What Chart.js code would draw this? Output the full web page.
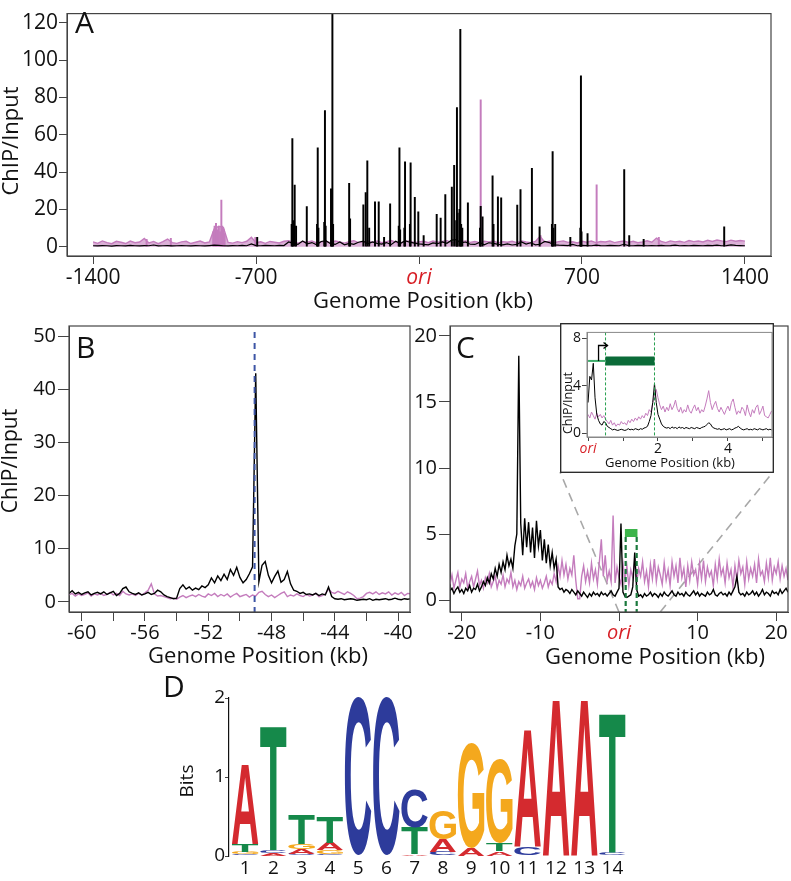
<!DOCTYPE html>
<html>
<head>
<meta charset="utf-8">
<script src="https://cdn.jsdelivr.net/npm/chart.js@4.4.1/dist/chart.umd.min.js"></script>
<style>
  body { margin: 0; background: #fff; }
  #fig { position: relative; width: 791px; height: 881px; overflow: hidden; background: #fff; }
  canvas { position: absolute; }
</style>
</head>
<body>
<div id="fig">
  <canvas id="chartA" width="791" height="318" style="left:0;top:0"></canvas>
  <canvas id="chartB" width="425" height="370" style="left:0;top:300px"></canvas>
  <canvas id="chartC" width="396" height="370" style="left:395px;top:300px"></canvas>
  <canvas id="chartInset" width="214" height="150" style="left:560px;top:323px"></canvas>
  <canvas id="chartD" width="490" height="231" style="left:150px;top:650px"></canvas>
</div>
<script>
// ---------- data ----------
// panel A: genome-wide ChIP/Input, 20 kb bins from -1400 kb
const aStart = -1400, aStep = 20;
const aInput = [
  2.6,1.8,3.1,2.2,1.6,2.9,2.4,1.7,3.0,2.1,
  2.5,4.4,2.0,2.8,1.6,2.7,4.1,2.2,1.8,2.6,
  2.9,1.7,2.4,3.0,2.0,2.6,9.5,11.0,10.2,2.3,
  1.9,2.7,2.2,2.9,5.0,2.1,2.6,1.8,2.8,2.4,
  2.0,2.9,3.2,2.3,1.9,2.7,2.4,3.1,2.0,2.6,
  2.8,2.1,3.0,2.5,1.9,2.7,3.2,2.2,2.6,2.9,
  2.3,3.0,2.1,2.7,3.3,2.4,2.0,2.8,3.1,2.2,
  2.6,2.9,2.1,3.0,2.4,2.8,3.2,2.2,2.7,2.5,
  3.0,2.3,2.8,2.1,2.9,2.6,3.1,2.0,2.7,2.4,
  2.9,2.2,3.0,2.5,2.1,2.8,5.6,2.4,2.9,2.2,
  2.7,3.1,2.3,2.6,2.0,2.9,2.4,3.0,2.2,2.8,
  2.5,3.1,2.2,2.7,3.0,2.3,2.9,2.1,2.6,3.2,
  2.4,4.6,2.8,2.2,3.1,2.6,2.9,2.3,3.3,2.7,
  3.0,2.5,3.4,2.8,3.6,3.1,2.7,3.5,2.9,3.3,3.0
];
const aChip = [
  0.5,0.4,0.6,0.5,0.3,0.6,0.5,0.4,0.7,0.5,
  0.4,0.6,0.5,0.9,0.4,0.5,0.6,0.4,0.5,0.6,
  0.5,0.4,0.6,0.5,0.4,0.6,0.8,0.7,0.5,0.4,
  0.6,0.5,0.7,0.5,1.5,0.6,0.5,0.7,0.6,0.5,
  0.7,0.6,2.5,1.8,1.2,3.0,1.5,2.2,1.0,2.8,
  3.2,1.6,1.2,2.5,1.0,1.8,1.3,2.4,3.0,1.5,
  2.6,1.8,1.4,2.2,1.1,2.9,1.7,3.2,2.4,1.9,
  1.5,1.2,1.0,2.0,1.6,2.6,1.8,3.5,3.8,2.0,
  2.5,1.3,1.2,2.3,1.0,2.1,1.8,1.2,1.0,1.5,
  0.9,1.2,2.5,1.4,2.1,1.0,1.3,2.8,2.2,1.0,
  0.8,0.7,0.6,1.2,0.5,0.7,0.6,0.5,0.8,0.6,
  0.5,0.7,0.6,0.5,1.3,0.6,0.5,0.7,0.6,0.5,
  0.6,0.5,0.7,0.5,0.6,0.8,0.5,0.6,0.5,0.7,
  0.6,0.5,0.7,0.6,0.8,0.5,0.6,1.0,0.7,0.6,0.5
];
const aChipPeakPos = [-695,-547,-544,-541,-534,-528,-482,-438,-435,-432,-407,-404,-401,-378,-375,-372,-369,-300,-296,-239,
  -229,-222,-214,-189,-173,-150,-124,-87,-84,-81,-63,-60,-39,-36,-18,-3,20,76,93,113,
  141,151,160,163,166,174,177.5,181,186,210,262,265,273,316,320,339,353,422,436,485,
  518,571,574,577,585,650,693,695.6,698,724,881.5,903,965,1311];
const aChipPeakVal = [5,12,58,14,33,11,21.5,12,53,10,13,73,11,31,15,140,12,34,15,22.5,
  29,46,10,24,24,5,23,11,53,9,10,45.5,12,45,26.5,18.7,6,17.4,15.3,28,
  32,43.6,14,74.6,18,20,116.6,12,10,23.5,10,21.6,16,38,12,26.7,26.2,22.3,30.6,42,
  10.7,12,51,10,12,5,10,91.6,8,7,41.4,6,4,10.7];
const aInputPeakPos = [-1170,-1066,-884,-878,-872,-866,-860,-854,-849,-845,-840,-835,-703,265,522,763,1030];
const aInputPeakVal = [4,4.5,8,11,12.5,9,10.5,8,25,11,9.5,7,5,78.8,6,33.2,5];
const aTicksX = [-1400, -700, 0, 700, 1400];
const aTicksY = [0, 20, 40, 60, 80, 100, 120];

// panel B: -60.8 to -39.2 kb, 0.2 kb bins
const bStart = -60.8, bStep = 0.2;
const bChip = [
  1.6,2.1,1.5,1.8,1.4,1.7,1.9,1.3,1.6,1.8,
  1.5,1.9,1.4,1.7,2.0,1.2,1.6,2.5,2.8,1.9,
  1.6,1.4,1.7,1.3,1.5,1.8,1.4,1.6,2.2,1.9,
  1.3,1.0,0.8,0.6,0.7,2.5,3.2,2.4,2.8,2.2,
  2.6,2.3,3.0,2.7,3.2,4.5,3.6,4.9,4.0,5.2,
  4.2,6.1,5.0,6.5,4.6,3.6,4.2,5.3,6.6,43.0,
  3.8,6.9,7.6,5.0,3.6,4.8,5.8,3.7,4.2,5.7,
  3.4,2.2,2.0,1.6,1.8,1.4,1.5,1.3,1.6,1.2,
  1.5,1.3,2.8,1.0,0.6,0.5,0.6,0.4,0.5,0.6,
  0.5,0.3,0.4,0.5,0.4,0.6,0.3,0.5,0.4,0.5,
  0.6,0.4,0.5,0.7,0.5,0.4,0.6,0.5,0.6
];
const bInput = [
  1.3,1.6,1.1,1.5,1.2,1.4,1.7,1.1,1.5,1.3,
  1.6,1.2,1.4,1.8,1.3,1.6,1.2,2.0,1.5,1.3,
  1.5,1.2,1.6,1.3,1.7,2.2,3.4,1.5,1.1,1.2,
  1.0,0.8,0.6,0.7,0.5,0.9,1.2,0.8,1.1,1.3,
  1.0,1.4,1.1,0.9,1.5,1.2,1.6,1.0,1.4,1.1,
  1.5,0.9,1.3,1.6,1.0,1.2,1.4,0.9,1.3,1.1,
  1.8,2.0,1.4,1.0,1.3,0.8,1.2,1.6,1.9,1.0,
  1.3,1.1,1.5,1.2,1.0,1.4,1.1,1.3,1.6,1.0,
  1.2,1.5,2.4,1.8,1.6,2.0,1.7,1.4,1.9,1.6,
  1.2,0.6,0.7,1.0,1.6,1.8,1.5,1.9,1.4,1.7,
  1.5,1.9,1.3,1.7,1.4,1.8,1.2,1.6,1.5
];
const bMotifSite = -49.07;
const bTicksX = [-60,-58,-56,-54,-52,-50,-48,-46,-44,-42,-40];
const bTicksY = [0, 10, 20, 30, 40, 50];

// panel C: -21.5 to 21.5 kb around ori, 0.25 kb bins
const cStart = -21.5, cStep = 0.25;
const cChip = [
  0.7,0.9,0.5,0.8,1.0,0.6,0.8,0.5,0.9,0.7,
  1.1,0.6,0.9,0.8,1.2,0.7,1.0,1.4,1.1,1.7,
  1.3,2.0,1.6,2.4,1.8,2.7,2.1,2.9,2.3,3.4,
  2.6,3.1,2.4,4.1,5.0,18.5,5.8,3.4,6.2,4.0,
  5.9,3.6,5.5,3.2,6.0,4.1,5.3,3.0,4.6,2.8,
  4.2,2.6,3.6,2.4,3.1,1.0,0.8,0.9,0.6,0.8,
  0.7,0.5,0.8,0.6,0.4,0.7,0.5,0.3,0.6,0.4,
  0.2,0.5,0.3,0.6,0.4,0.5,0.3,0.6,0.4,0.5,
  0.3,0.5,0.7,0.4,0.3,0.6,0.9,5.8,0.6,0.3,
  0.2,0.3,0.4,1.0,3.6,0.8,0.3,0.4,0.2,0.5,
  0.3,0.4,0.6,0.3,0.5,0.4,0.2,0.5,0.3,0.6,
  0.4,0.3,0.5,0.7,0.4,0.3,0.6,0.4,0.5,0.3,
  0.6,0.4,0.3,0.5,0.7,0.4,0.6,0.3,0.5,0.4,
  0.3,0.6,0.4,0.5,0.8,0.4,0.3,0.5,0.6,0.4,
  0.5,0.3,0.6,0.4,0.7,1.0,1.8,0.6,0.4,0.5,
  0.3,0.6,0.4,0.5,0.7,0.4,0.6,0.3,0.5,0.8,
  0.4,0.6,0.5,0.3,0.7,0.5,0.6,0.4,0.8,0.5,
  0.7,0.9,0.6
];
const cInput = [
  1.2,1.9,0.9,1.5,2.1,1.0,1.6,1.3,2.0,0.9,
  1.4,1.8,1.0,1.6,2.2,1.1,1.5,0.9,1.7,1.3,
  2.0,1.0,1.4,1.8,0.9,1.5,1.2,1.9,1.0,1.6,
  1.3,2.1,1.0,1.5,0.8,1.4,1.1,1.8,0.9,1.3,
  1.6,1.0,1.4,0.8,1.7,1.1,1.5,0.9,1.3,1.8,
  1.0,1.5,1.2,2.0,1.4,2.6,1.8,3.0,1.9,2.7,
  1.6,2.4,1.9,3.4,1.5,0.1,0.1,1.8,2.6,1.4,
  2.2,1.3,2.8,1.6,2.3,1.2,2.9,4.6,1.8,3.4,
  1.5,2.2,1.4,6.4,1.3,2.5,1.7,1.2,2.8,1.5,
  2.6,1.1,2.3,1.7,3.0,1.3,2.4,1.8,2.9,1.4,
  2.2,1.0,2.7,1.6,3.1,1.4,2.5,1.9,1.2,2.8,
  1.5,2.3,1.1,2.9,1.8,2.6,1.3,3.2,1.7,2.4,
  1.0,2.6,1.5,2.9,1.9,2.3,1.2,2.8,1.6,3.0,
  1.4,2.5,1.8,2.2,1.1,2.7,1.6,3.1,1.9,2.4,
  1.3,2.8,1.7,2.3,1.0,2.6,1.5,3.0,2.0,2.5,
  1.2,2.9,1.6,2.4,1.8,2.7,1.3,3.1,1.9,2.2,
  1.4,2.8,1.7,3.2,1.5,2.5,2.0,2.9,1.6,2.6,
  1.8,2.4,1.5
];
const cGene = [0.85, 2.25];
const cGeneLevel = 5.08;
const cTicksX = [-20, -10, 0, 10, 20];
const cTicksY = [0, 5, 10, 15, 20];

// inset: 0 to 5.25 kb from ori, 0.05 kb bins
const insetStart = 0, insetStep = 0.05;
const insetChip = [
  2.6,4.8,4.5,5.9,3.0,1.6,1.1,0.8,0.7,1.0,
  0.9,0.6,0.5,0.4,0.3,0.35,0.3,0.25,0.3,0.35,
  0.3,0.25,0.3,0.4,0.3,0.35,0.3,0.4,0.35,0.3,
  0.4,0.35,0.45,0.5,0.6,1.0,1.5,2.6,4.2,2.6,
  1.6,1.2,0.8,0.6,0.5,0.45,0.5,0.4,0.55,0.45,
  0.5,0.4,0.55,0.45,0.5,0.4,0.5,0.45,0.4,0.5,
  0.45,0.4,0.5,0.45,0.4,0.5,0.55,0.6,0.75,0.9,
  0.8,0.55,0.45,0.4,0.35,0.4,0.3,0.35,0.4,0.3,
  0.35,0.4,0.3,0.35,0.45,0.5,0.6,0.45,0.35,0.3,
  0.35,0.4,0.3,0.35,0.3,0.4,0.35,0.3,0.4,0.35,
  0.3,0.35,0.4,0.3,0.35,0.3
];
const insetInput = [
  1.6,1.3,1.8,1.5,1.2,1.7,1.4,1.6,1.3,1.5,
  1.2,1.0,0.8,1.1,0.7,0.9,0.6,0.8,0.7,1.0,
  0.8,0.9,0.7,1.1,0.9,1.2,1.0,1.3,1.1,1.4,
  1.2,1.5,1.3,1.7,1.5,2.0,1.8,2.6,3.2,3.7,
  3.0,2.4,2.0,2.3,1.8,2.2,1.9,2.5,2.0,2.3,
  2.8,2.1,1.8,2.2,1.7,2.0,1.8,2.4,1.9,1.7,
  2.1,2.4,1.9,2.2,1.7,2.0,1.8,2.3,2.9,3.6,
  2.6,2.0,2.4,2.7,2.1,1.8,2.2,1.9,1.6,2.0,
  2.3,1.9,2.6,2.9,2.2,1.6,1.9,1.7,2.2,2.0,
  1.5,2.4,1.8,1.4,2.0,1.7,2.2,2.4,1.6,1.9,
  2.3,1.5,1.4,1.3,1.6,1.9
];
const insetGene = [0.5, 1.9];
const insetGeneLevel = 6.1;
const insetTss = 0.3, insetArrowLevel = 7.4;
const insetTicksX = [0, 1, 2, 3, 4, 5];
const insetTicksY = [0, 4, 8];

// panel D: motif logo, letters bottom -> top with their heights in bits
const logoPositions = [1,2,3,4,5,6,7,8,9,10,11,12,13,14];
const logoLetters = ['CGTA','ACT','CAGT','CGAT','C','C','ATC','CAG','AG','ATG','CA','A','A','CT'];
const logoBits = [
  [0.02,0.03,0.10,1.02],[0.04,0.03,1.58],[0.03,0.06,0.06,0.37],[0.02,0.05,0.09,0.33],
  [2.0],[2.0],[0.02,0.34,0.49],[0.05,0.16,0.36],[0.10,1.34],[0.06,0.10,1.06],
  [0.11,1.50],[2.0],[2.0],[0.04,1.78]
];
const logoTicksY = [0, 1, 2];

// ---------- style ----------
const FONT = '"Open Sans"';
const RED = '#d71f26';
const PINK = '#c47cbd';
const AXIS = '#444';
const logoColors = { A: '#d42a2f', C: '#2d3b9b', G: '#f4a81d', T: '#15894a' };
Chart.defaults.font.family = FONT;
Chart.defaults.color = '#111';

const series = (start, step, vals) => vals.map((v, i) => ({ x: +(start + i * step).toFixed(3), y: v }));
const pairs = (xs, ys) => xs.map((x, i) => ({ x, y: ys[i] }));

function makeAxis(o) {
  const isOri = c => o.ori && c.tick && c.tick.value === 0;
  return {
    type: 'linear', min: o.min, max: o.max, offset: false,
    afterBuildTicks: s => { s.ticks = o.ticks.map(v => ({ value: v })); },
    afterFit: s => {
      if (o.width !== undefined) s.width = o.width;
      if (o.height !== undefined) s.height = o.height;
    },
    grid: { display: o.noGrid ? false : true, drawOnChartArea: false, drawTicks: !o.noGrid,
            tickLength: o.tickLength || 0, color: AXIS, lineWidth: 1, offset: false },
    border: { display: !o.noBorder, color: o.borderColor || AXIS, width: o.borderWidth || 1 },
    ticks: {
      autoSkip: false, maxRotation: 0, minRotation: 0, padding: o.padding || 0,
      callback: o.callback || (v => String(v)),
      color: c => isOri(c) ? RED : '#111',
      font: c => ({ family: FONT, size: o.fontSize, style: isOri(c) ? 'italic' : 'normal' })
    }
  };
}

function baseOptions(padding, scales) {
  return {
    responsive: false, animation: false, events: [],
    layout: { padding },
    plugins: { legend: { display: false }, tooltip: { enabled: false } },
    scales
  };
}

const lineSet = (data, color, width, order) =>
  ({ type: 'line', data, borderColor: color, borderWidth: width, pointRadius: 0, tension: 0, order });
const spikeSet = (data, color, order) =>
  ({ type: 'bar', data, backgroundColor: color, barThickness: 1.3, grouped: false, order });

function framePlugin(color, width) {
  return {
    id: 'frame',
    afterDatasetsDraw(chart) {
      const { ctx, chartArea: a } = chart;
      ctx.save();
      ctx.strokeStyle = color; ctx.lineWidth = width;
      ctx.strokeRect(a.left, a.top, a.right - a.left, a.bottom - a.top);
      ctx.restore();
    }
  };
}

function textPlugin(items) {
  return {
    id: 'texts',
    afterDraw(chart) {
      const ctx = chart.ctx;
      items.forEach(t => {
        ctx.save();
        ctx.translate(t.x, t.y);
        if (t.rot) ctx.rotate(t.rot * Math.PI / 180);
        ctx.font = (t.style || 'normal') + ' ' + (t.weight || 400) + ' ' + t.size + 'px ' + FONT;
        ctx.fillStyle = t.color || '#111';
        ctx.textAlign = t.align || 'center';
        ctx.textBaseline = t.base || 'middle';
        ctx.fillText(t.text, 0, 0);
        ctx.restore();
      });
    }
  };
}

const oriLabel = v => v === 0 ? 'ori' : String(v);

// ---------- A ----------
const aInputLine = lineSet(series(aStart, aStep, aInput), PINK, 1.4, 3);
aInputLine.fill = 'origin';
aInputLine.backgroundColor = 'rgba(190,112,182,0.55)';
new Chart(document.getElementById('chartA'), {
  type: 'line',
  data: { datasets: [
    spikeSet(pairs(aChipPeakPos, aChipPeakVal), '#000', 0),
    lineSet(series(aStart, aStep, aChip), '#000', 1.2, 1),
    spikeSet(pairs(aInputPeakPos, aInputPeakVal), PINK, 2),
    aInputLine
  ]},
  options: baseOptions({ top: 1, right: 20, left: 0, bottom: 0 }, {
    x: makeAxis({ min: -1512, max: 1512, ticks: aTicksX, height: 62, tickLength: 8, padding: 1,
                  fontSize: 21, callback: oriLabel, ori: true }),
    y: makeAxis({ min: -5, max: 125, ticks: aTicksY, width: 67, tickLength: 8, padding: 1, fontSize: 21 })
  }),
  plugins: [framePlugin(AXIS, 1.2), textPlugin([
    { text: 'A', x: 75, y: 33, size: 30, align: 'left', base: 'alphabetic' },
    { text: 'ChIP/Input', x: 12, y: 141, size: 22, rot: -90 },
    { text: 'Genome Position (kb)', x: 423, y: 302, size: 22 }
  ])]
});

// ---------- B ----------
new Chart(document.getElementById('chartB'), {
  type: 'line',
  data: { datasets: [
    lineSet(series(bStart, bStep, bChip), '#000', 1.4, 0),
    lineSet(series(bStart, bStep, bInput), PINK, 1.4, 1)
  ]},
  options: baseOptions({ top: 26, right: 15, left: 0, bottom: 0 }, {
    x: makeAxis({ min: -60.8, max: -39.25, ticks: bTicksX, height: 58, tickLength: 9, padding: 0,
                  fontSize: 20, callback: v => v % 4 === 0 ? String(v) : '' }),
    y: makeAxis({ min: -1.9, max: 51.9, ticks: bTicksY, width: 69, tickLength: 11, padding: 2, fontSize: 20 })
  }),
  plugins: [{
    id: 'motifLine',
    afterDatasetsDraw(chart) {
      const { ctx, chartArea: a, scales } = chart;
      const x = scales.x.getPixelForValue(bMotifSite);
      ctx.save();
      ctx.strokeStyle = '#3d55a5'; ctx.lineWidth = 2; ctx.setLineDash([6, 5]);
      ctx.beginPath(); ctx.moveTo(x, a.top + 6); ctx.lineTo(x, a.bottom); ctx.stroke();
      ctx.restore();
    }
  }, framePlugin(AXIS, 1.2), textPlugin([
    { text: 'B', x: 76, y: 58, size: 30, align: 'left', base: 'alphabetic' },
    { text: 'ChIP/Input', x: 11, y: 161, size: 21, rot: -90 },
    { text: 'Genome Position (kb)', x: 258, y: 357, size: 22 }
  ])]
});

// ---------- C ----------
const insetBoxInC = { left: 165, right: 378, bottom: 172 };
new Chart(document.getElementById('chartC'), {
  type: 'line',
  data: { datasets: [
    lineSet(series(cStart, cStep, cChip), '#000', 1.4, 0),
    lineSet(series(cStart, cStep, cInput), PINK, 1.4, 1)
  ]},
  options: baseOptions({ top: 26, right: 3, left: 0, bottom: 0 }, {
    x: makeAxis({ min: -21.5, max: 21.5, ticks: cTicksX, height: 58, tickLength: 9, padding: 0,
                  fontSize: 20, callback: oriLabel, ori: true }),
    y: makeAxis({ min: -0.9, max: 20.75, ticks: cTicksY, width: 55, tickLength: 11, padding: 2, fontSize: 20 })
  }),
  plugins: [{
    id: 'zoomLines',
    beforeDatasetsDraw(chart) {
      const { ctx, chartArea: a, scales } = chart;
      const x0 = scales.x.getPixelForValue(insetStart);
      const x1 = scales.x.getPixelForValue(insetStart + insetStep * (insetChip.length - 1));
      ctx.save();
      ctx.strokeStyle = '#a8a8a8'; ctx.lineWidth = 1.6; ctx.setLineDash([9, 6]);
      ctx.beginPath();
      ctx.moveTo(x0, a.bottom); ctx.lineTo(insetBoxInC.left, insetBoxInC.bottom);
      ctx.moveTo(x1, a.bottom); ctx.lineTo(insetBoxInC.right, insetBoxInC.bottom);
      ctx.stroke();
      ctx.restore();
    },
    afterDatasetsDraw(chart) {
      const { ctx, chartArea: a, scales } = chart;
      const yb = scales.y.getPixelForValue(cGeneLevel);
      ctx.save();
      ctx.strokeStyle = '#1b7a3e'; ctx.lineWidth = 2.2; ctx.setLineDash([5, 3]);
      ctx.beginPath();
      cGene.forEach(g => {
        const x = scales.x.getPixelForValue(g);
        ctx.moveTo(x, yb + 4); ctx.lineTo(x, a.bottom);
      });
      ctx.stroke();
      ctx.setLineDash([]);
      ctx.strokeStyle = '#3cb44b'; ctx.lineWidth = 8;
      ctx.beginPath();
      ctx.moveTo(scales.x.getPixelForValue(cGene[0] - 0.1), yb);
      ctx.lineTo(scales.x.getPixelForValue(cGene[1] + 0.1), yb);
      ctx.stroke();
      ctx.restore();
    }
  }, framePlugin(AXIS, 1.2), textPlugin([
    { text: 'C', x: 61, y: 58, size: 30, align: 'left', base: 'alphabetic' },
    { text: 'Genome Position (kb)', x: 260, y: 358, size: 22 }
  ])]
});

// ---------- inset ----------
new Chart(document.getElementById('chartInset'), {
  type: 'line',
  data: { datasets: [
    lineSet(series(insetStart, insetStep, insetChip), '#000', 1, 0),
    lineSet(series(insetStart, insetStep, insetInput), PINK, 1, 1)
  ]},
  options: baseOptions({ top: 6, right: 2, left: 0, bottom: 0 }, {
    x: makeAxis({ min: -0.03, max: 5.26, ticks: insetTicksX, height: 36, tickLength: 4, padding: 0,
                  fontSize: 14, callback: v => v === 0 ? 'ori' : (v % 2 === 0 ? String(v) : ''), ori: true,
                  borderColor: '#888' }),
    y: makeAxis({ min: -0.3, max: 8.5, ticks: insetTicksY, width: 27, tickLength: 5, padding: 1, fontSize: 14,
                  borderColor: '#888' })
  }),
  plugins: [{
    id: 'insetBox',
    beforeDraw(chart) {
      const ctx = chart.ctx;
      ctx.save(); ctx.fillStyle = '#fff'; ctx.fillRect(0, 0, chart.width, chart.height); ctx.restore();
    },
    afterDatasetsDraw(chart) {
      const { ctx, chartArea: a, scales } = chart;
      const xs = v => scales.x.getPixelForValue(v), ys = v => scales.y.getPixelForValue(v);
      const yg = ys(insetGeneLevel);
      ctx.save();
      ctx.strokeStyle = '#27a04f'; ctx.lineWidth = 1; ctx.setLineDash([3, 2]);
      ctx.beginPath();
      insetGene.forEach(g => { ctx.moveTo(xs(g), a.top); ctx.lineTo(xs(g), a.bottom); });
      ctx.stroke();
      ctx.setLineDash([]);
      ctx.strokeStyle = '#3dac6a'; ctx.lineWidth = 2;
      ctx.beginPath(); ctx.moveTo(xs(0), yg); ctx.lineTo(xs(insetGene[0]), yg); ctx.stroke();
      ctx.strokeStyle = '#0b6b38'; ctx.lineWidth = 9;
      ctx.beginPath(); ctx.moveTo(xs(insetGene[0]), yg); ctx.lineTo(xs(insetGene[1]), yg); ctx.stroke();
      const ya = ys(insetArrowLevel), xt = xs(insetTss), xe = xs(insetGene[0]) + 2;
      ctx.strokeStyle = '#000'; ctx.lineWidth = 1.3;
      ctx.beginPath(); ctx.moveTo(xt, yg); ctx.lineTo(xt, ya); ctx.lineTo(xe, ya); ctx.stroke();
      ctx.beginPath(); ctx.moveTo(xe - 4, ya - 3); ctx.lineTo(xe, ya); ctx.lineTo(xe - 4, ya + 3); ctx.stroke();
      ctx.restore();
    },
    afterDraw(chart) {
      const ctx = chart.ctx;
      ctx.save(); ctx.strokeStyle = '#222'; ctx.lineWidth = 1.3;
      ctx.strokeRect(0.7, 0.7, chart.width - 1.4, chart.height - 1.4); ctx.restore();
    }
  }, framePlugin('#888', 1), textPlugin([
    { text: 'ChIP/Input', x: 8, y: 80, size: 12.5, rot: -90 },
    { text: 'Genome Position (kb)', x: 110, y: 140, size: 13 }
  ])]
});

// ---------- D ----------
const logoDatasets = [0, 1, 2, 3].map(r => ({
  data: logoPositions.map((p, c) => ({ x: p, y: logoBits[c][r] || 0 })),
  backgroundColor: 'rgba(0,0,0,0)', borderWidth: 0, barPercentage: 0.94, categoryPercentage: 1
}));
new Chart(document.getElementById('chartD'), {
  type: 'bar',
  data: { datasets: logoDatasets },
  options: baseOptions({ top: 48, right: 12, left: 0, bottom: 0 }, {
    x: Object.assign(makeAxis({ min: 0.43, max: 14.55, ticks: logoPositions, height: 25, padding: 1,
                                fontSize: 19, noGrid: true, noBorder: true }), { stacked: true }),
    y: Object.assign(makeAxis({ min: 0, max: 2, ticks: logoTicksY, width: 79, tickLength: 4, padding: 0,
                                fontSize: 19, borderColor: '#111', borderWidth: 1.2 }), { stacked: true })
  }),
  plugins: [{
    id: 'logoLetters',
    afterDatasetsDraw(chart) {
      const ctx = chart.ctx;
      chart.data.datasets.forEach((ds, r) => {
        chart.getDatasetMeta(r).data.forEach((bar, c) => {
          const letter = logoLetters[c][r];
          if (!letter) return;
          const p = bar.getProps(['x', 'y', 'base', 'width'], true);
          const top = Math.min(p.y, p.base), h = Math.abs(p.base - p.y);
          if (h < 0.5) return;
          ctx.save();
          ctx.font = 'bold 100px "Liberation Sans"';
          const m = ctx.measureText(letter);
          const gw = m.actualBoundingBoxLeft + m.actualBoundingBoxRight;
          const gh = m.actualBoundingBoxAscent + m.actualBoundingBoxDescent;
          ctx.translate(p.x - p.width / 2, top);
          ctx.scale(p.width / gw, h / gh);
          ctx.fillStyle = logoColors[letter];
          ctx.textAlign = 'left'; ctx.textBaseline = 'alphabetic';
          ctx.fillText(letter, m.actualBoundingBoxLeft, m.actualBoundingBoxAscent);
          ctx.restore();
        });
      });
    }
  }, textPlugin([
    { text: 'D', x: 13, y: 47, size: 30, align: 'left', base: 'alphabetic' },
    { text: 'Bits', x: 38, y: 131, size: 19, rot: -90 }
  ])]
});
</script>
</body>
</html>
